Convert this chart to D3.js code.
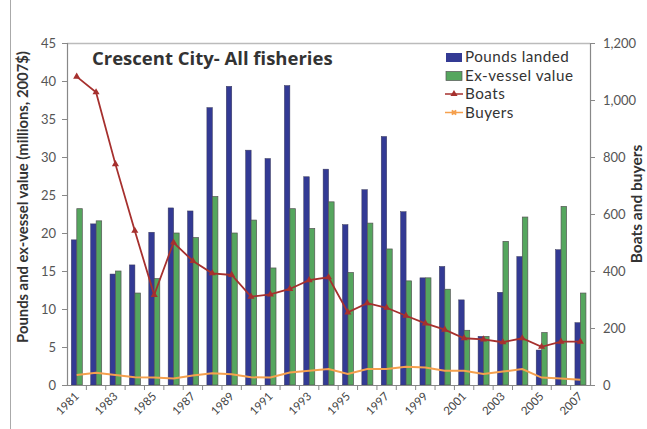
<!DOCTYPE html>
<html><head><meta charset="utf-8">
<script src="https://cdn.jsdelivr.net/npm/d3@7"></script>
<style>body{margin:0;background:#fff}svg{display:block}text{font-family:Lato,"Open Sans",sans-serif}</style>
</head><body>
<svg id="c" width="647" height="429"></svg>
<script>
const years = [1981,1982,1983,1984,1985,1986,1987,1988,1989,1990,1991,1992,1993,1994,1995,1996,1997,1998,1999,2000,2001,2002,2003,2004,2005,2006,2007];
const poundsLanded = [19.1,21.2,14.6,15.8,20.1,23.3,22.9,36.5,39.3,30.9,29.8,39.4,27.4,28.4,21.1,25.7,32.7,22.8,14.1,15.6,11.2,6.4,12.2,16.9,4.6,17.8,8.2];
const exVesselValue = [23.2,21.6,15.0,12.1,14.0,20.0,19.4,24.8,20.0,21.7,15.4,23.2,20.6,24.1,14.8,21.3,17.9,13.7,14.1,12.6,7.2,6.4,18.9,22.1,6.9,23.5,12.1];
const boats = [1082,1027,775,541,316,500,435,392,386,310,318,337,368,378,255,287,271,243,216,194,164,160,150,164,134,152,152];
const buyers = [35,43,35,27,26,23,33,41,38,27,26,44,50,56,39,56,56,64,61,50,50,39,47,56,26,23,18];
const leftTicks = [0,5,10,15,20,25,30,35,40,45];
const rightTicks = [0,200,400,600,800,1000,1200];

const svg = d3.select('#c');
const L = 67, R = 590, T = 43, B = 385;

const x = d3.scaleBand().domain(years).range([L, R]);
const sub = d3.scaleBand().domain(['p','v']).range([4.3, 15.3]);
const yL = d3.scaleLinear().domain([0,45]).range([B, T]);
const yR = d3.scaleLinear().domain([0,1200]).range([B, T]);

// frame
svg.append('line').attr('x1',10.5).attr('x2',10.5).attr('y1',0).attr('y2',429).attr('stroke','#aaa').attr('stroke-width',1);
svg.append('line').attr('x1',L).attr('x2',R).attr('y1',T+0.5).attr('y2',T+0.5).attr('stroke','#bbb').attr('stroke-width',1.5);

// bars
const g = svg.append('g');
g.selectAll('rect.p').data(years).enter().append('rect')
  .attr('x', (d)=>x(d)+sub('p')).attr('width', sub.bandwidth())
  .attr('y', (d,i)=>yL(poundsLanded[i])).attr('height',(d,i)=>B-yL(poundsLanded[i]))
  .attr('fill','#333a94').attr('stroke','#3a3a5a').attr('stroke-width',0.5);
g.selectAll('rect.v').data(years).enter().append('rect')
  .attr('x', (d)=>x(d)+sub('v')).attr('width', sub.bandwidth())
  .attr('y', (d,i)=>yL(exVesselValue[i])).attr('height',(d,i)=>B-yL(exVesselValue[i]))
  .attr('fill','#55a65e').attr('stroke','#555').attr('stroke-width',0.7);

// lines
const cx = d => x(d) + x.bandwidth()/2;
const lineB = d3.line().x((d,i)=>cx(years[i])).y(d=>yR(d));
svg.append('path').datum(buyers).attr('d',lineB).attr('fill','none').attr('stroke','#f5a04e').attr('stroke-width',2);
svg.append('path').datum(boats).attr('d',lineB).attr('fill','none').attr('stroke','#a6302e').attr('stroke-width',1.8);
const tri = d3.symbol().type(d3.symbolTriangle).size(22);
svg.selectAll('path.tri').data(boats).enter().append('path')
  .attr('d',tri).attr('transform',(d,i)=>`translate(${cx(years[i])},${yR(d)})`).attr('fill','#a6302e');

// left axis
const axL = svg.append('g').attr('transform',`translate(${L},0)`)
  .call(d3.axisLeft(yL).tickValues(leftTicks).tickSize(5).tickPadding(6));
axL.select('.domain').attr('stroke','#888').attr('stroke-width',1.2);
axL.selectAll('.tick line').attr('stroke','#888');
axL.selectAll('text').attr('fill','#555').style('font-size','13px').style('font-family','Lato, sans-serif');

// right axis
const axR = svg.append('g').attr('transform',`translate(${R},0)`)
  .call(d3.axisRight(yR).tickValues(rightTicks).tickSize(5).tickPadding(8).tickFormat(d3.format(',')));
axR.select('.domain').attr('stroke','#888').attr('stroke-width',1.2);
axR.selectAll('.tick line').attr('stroke','#888');
axR.selectAll('text').attr('fill','#555').style('font-size','13px').style('font-family','Lato, sans-serif');

// bottom axis
const axB = svg.append('g').attr('transform',`translate(0,${B})`)
  .call(d3.axisBottom(x).tickSize(0).tickFormat(d=> d%2===1 ? d : ''));
axB.select('.domain').attr('stroke','#888').attr('stroke-width',1.2);
axB.selectAll('.tick text').attr('text-anchor','end').attr('dy',null).attr('y',0)
  .attr('transform','translate(3,12) rotate(-45)').attr('fill','#444').style('font-size','11.5px');
// boundary ticks
svg.append('g').selectAll('line').data(years.slice(1)).enter().append('line')
  .attr('x1',d=>x(d)).attr('x2',d=>x(d)).attr('y1',B).attr('y2',B+5).attr('stroke','#888');

// title
svg.append('text').attr('x',92).attr('y',65).text('Crescent City- All fisheries')
  .attr('fill','#333').style('font-size','18.5px').style('font-weight','bold').style('font-family','"Open Sans", sans-serif');

// axis titles
svg.append('text').attr('transform','translate(28,197) rotate(-90)').attr('text-anchor','middle')
  .text('Pounds and ex-vessel value (millions, 2007$)').attr('fill','#333').style('font-size','14.8px').style('font-weight','bold');
svg.append('text').attr('transform','translate(642,204) rotate(-90)').attr('text-anchor','middle')
  .text('Boats and buyers').attr('fill','#333').style('font-size','15.5px').style('font-weight','bold');

// legend
const lg = svg.append('g');
const names = ['Pounds landed','Ex-vessel value','Boats','Buyers'];
const ly = [62,80.5,99,117.5];
lg.append('rect').attr('x',446).attr('y',ly[0]-9).attr('width',16).attr('height',9).attr('fill','#333a94');
lg.append('rect').attr('x',446).attr('y',ly[1]-9).attr('width',16).attr('height',9).attr('fill','#55a65e').attr('stroke','#555').attr('stroke-width',0.7);
lg.append('line').attr('x1',445).attr('x2',463).attr('y1',ly[2]-5).attr('y2',ly[2]-5).attr('stroke','#a6302e').attr('stroke-width',1.5);
lg.append('path').attr('d',tri).attr('transform',`translate(454,${ly[2]-5})`).attr('fill','#a6302e');
lg.append('line').attr('x1',445).attr('x2',463).attr('y1',ly[3]-5).attr('y2',ly[3]-5).attr('stroke','#f5a04e').attr('stroke-width',1.5);
lg.append('path').attr('d',d3.symbol().type(d3.symbolCross).size(20)).attr('transform',`translate(454,${ly[3]-5}) rotate(45)`).attr('fill','#f5a04e');
lg.selectAll('text').data(names).enter().append('text')
  .attr('x',465).attr('y',(d,i)=>ly[i]).text(d=>d).attr('fill','#333').style('font-size','15.2px').style('letter-spacing','0.5px');
</script>
</body></html>
